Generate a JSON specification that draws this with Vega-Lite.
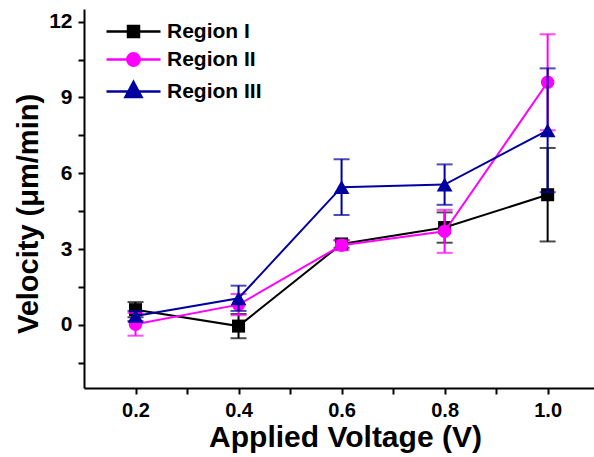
{
  "$schema": "https://vega.github.io/schema/vega-lite/v6.json",
  "width": 510,
  "height": 379,
  "autosize": {"type": "none"},
  "padding": {"left": 84, "top": 9, "right": 0, "bottom": 69},
  "background": "white",
  "config": {"view": {"stroke": null}, "font": "Liberation Sans"},
  "data": {
    "values": [
      {"voltage": 0.2, "region": "Region I", "velocity": 0.6, "err": 0.3},
      {"voltage": 0.4, "region": "Region I", "velocity": -0.05, "err": 0.48},
      {"voltage": 0.6, "region": "Region I", "velocity": 3.2, "err": 0.15},
      {"voltage": 0.8, "region": "Region I", "velocity": 3.85, "err": 0.6},
      {"voltage": 1.0, "region": "Region I", "velocity": 5.15, "err": 1.85},
      {"voltage": 0.2, "region": "Region II", "velocity": 0.02, "err": 0.45},
      {"voltage": 0.4, "region": "Region II", "velocity": 0.8, "err": 0.42},
      {"voltage": 0.6, "region": "Region II", "velocity": 3.15, "err": 0.2},
      {"voltage": 0.8, "region": "Region II", "velocity": 3.7, "err": 0.85},
      {"voltage": 1.0, "region": "Region II", "velocity": 9.6, "err": 1.9},
      {"voltage": 0.2, "region": "Region III", "velocity": 0.35, "err": 0.2},
      {"voltage": 0.4, "region": "Region III", "velocity": 1.05, "err": 0.5},
      {"voltage": 0.6, "region": "Region III", "velocity": 5.45, "err": 1.1},
      {"voltage": 0.8, "region": "Region III", "velocity": 5.55, "err": 0.8},
      {"voltage": 1.0, "region": "Region III", "velocity": 7.7, "err": 2.45}
    ]
  },
  "encoding": {
    "x": {
      "field": "voltage",
      "type": "quantitative",
      "scale": {"domain": [0.1, 1.09], "nice": false, "zero": false},
      "axis": {
        "values": [0.2, 0.3, 0.4, 0.5, 0.6, 0.7, 0.8, 0.9, 1.0],
        "labelExpr": "round(datum.value*10) % 2 === 0 ? format(datum.value, '.1f') : ''",
        "title": "Applied Voltage (V)",
        "grid": false,
        "domainColor": "black",
        "domainWidth": 2,
        "tickColor": "black",
        "tickWidth": 2,
        "tickSize": 6,
        "labelFont": "Liberation Sans",
        "labelFontSize": 20,
        "labelFontWeight": "bold",
        "labelColor": "black",
        "labelPadding": 6,
        "labelFlush": false,
        "labelOverlap": false,
        "titleFont": "Liberation Sans",
        "titleFontSize": 30,
        "titleFontWeight": "bold",
        "titleColor": "black",
        "titleBaseline": "alphabetic",
        "titleX": 261,
        "titleY": 58,
        "encode": {"ticks": {"update": {"y2": {"signal": "round(datum.value*10) % 2 === 0 ? 6 : 3"}}}}
      }
    },
    "y": {
      "field": "velocity",
      "type": "quantitative",
      "scale": {"domain": [-2.5, 12.5], "nice": false, "zero": false},
      "axis": {
        "values": [-1.5, 0, 1.5, 3, 4.5, 6, 7.5, 9, 10.5, 12],
        "labelExpr": "datum.value % 3 === 0 ? datum.label : ''",
        "title": "Velocity (μm/min)",
        "grid": false,
        "domainColor": "black",
        "domainWidth": 2,
        "tickColor": "black",
        "tickWidth": 2,
        "tickSize": 6,
        "labelFont": "Liberation Sans",
        "labelFontSize": 21,
        "labelFontWeight": "bold",
        "labelColor": "black",
        "labelPadding": 6,
        "labelFlush": false,
        "labelOverlap": false,
        "titleFont": "Liberation Sans",
        "titleFontSize": 29,
        "titleFontWeight": "bold",
        "titleColor": "black",
        "titleAngle": 270,
        "titleBaseline": "alphabetic",
        "titleAlign": "center",
        "titleX": -46.5,
        "titleY": 204.5,
        "encode": {"ticks": {"update": {"x2": {"signal": "datum.value % 3 === 0 ? -6 : -3"}}}}
      }
    },
    "color": {
      "field": "region",
      "type": "nominal",
      "scale": {"domain": ["Region I", "Region II", "Region III"], "range": ["#000000", "#FF00FF", "#0000A0"]},
      "legend": {
        "orient": "none",
        "legendX": 38,
        "legendY": 11,
        "title": null,
        "padding": 0,
        "labelFont": "Liberation Sans",
        "labelFontSize": 21,
        "labelFontWeight": "bold",
        "labelColor": "black",
        "symbolSize": 400,
        "symbolStrokeWidth": 2.5,
        "symbolOpacity": 1,
        "rowPadding": 6,
        "labelOffset": 22
      }
    }
  },
  "layer": [
    {
      "transform": [{"filter": {"field": "region", "equal": "Region I"}}],
      "mark": {"type": "errorbar", "ticks": {"size": 16, "thickness": 2}, "thickness": 2},
      "encoding": {"yError": {"field": "err"}}
    },
    {
      "transform": [{"filter": {"field": "region", "equal": "Region I"}}],
      "mark": {"type": "line", "strokeWidth": 2}
    },
    {
      "transform": [{"filter": {"field": "region", "equal": "Region I"}}],
      "mark": {"type": "point", "filled": true, "opacity": 1, "shape": "square", "size": 170}
    },
    {
      "transform": [{"filter": {"field": "region", "equal": "Region II"}}],
      "mark": {"type": "errorbar", "ticks": {"size": 16, "thickness": 2}, "thickness": 2},
      "encoding": {"yError": {"field": "err"}}
    },
    {
      "transform": [{"filter": {"field": "region", "equal": "Region II"}}],
      "mark": {"type": "line", "strokeWidth": 2}
    },
    {
      "transform": [{"filter": {"field": "region", "equal": "Region II"}}],
      "mark": {"type": "point", "filled": true, "opacity": 1, "shape": "circle", "size": 180}
    },
    {
      "transform": [{"filter": {"field": "region", "equal": "Region III"}}],
      "mark": {"type": "errorbar", "ticks": {"size": 16, "thickness": 2}, "thickness": 2},
      "encoding": {"yError": {"field": "err"}}
    },
    {
      "transform": [{"filter": {"field": "region", "equal": "Region III"}}],
      "mark": {"type": "line", "strokeWidth": 2}
    },
    {
      "transform": [{"filter": {"field": "region", "equal": "Region III"}}],
      "mark": {"type": "point", "filled": true, "opacity": 1, "shape": "triangle-up", "size": 250}
    },
    {
      "mark": {"type": "point", "filled": true, "opacity": 0, "size": 400},
      "encoding": {
        "shape": {
          "field": "region",
          "type": "nominal",
          "scale": {
            "domain": ["Region I", "Region II", "Region III"],
            "range": [
              "M-2.7,0H2.7M-0.55,-0.55H0.55V0.55H-0.55Z",
              "M-2.7,0H2.7M-0.62,0A0.62,0.62,0,1,0,0.62,0A0.62,0.62,0,1,0,-0.62,0Z",
              "M-2.7,0H2.7M0,-0.95L0.8,0.55H-0.8Z"
            ]
          },
          "legend": {
            "orient": "none",
            "legendX": 38,
            "legendY": 11,
            "title": null,
            "padding": 0,
            "labelFont": "Liberation Sans",
            "labelFontSize": 21,
            "labelFontWeight": "bold",
            "labelColor": "black",
            "symbolSize": 400,
            "symbolStrokeWidth": 2.5,
            "symbolOpacity": 1,
            "rowPadding": 6,
            "labelOffset": 22
          }
        },
        "stroke": {
          "field": "region",
          "type": "nominal",
          "scale": {"domain": ["Region I", "Region II", "Region III"], "range": ["#000000", "#FF00FF", "#0000A0"]},
          "legend": {
            "orient": "none",
            "legendX": 38,
            "legendY": 11,
            "title": null,
            "padding": 0,
            "labelFont": "Liberation Sans",
            "labelFontSize": 21,
            "labelFontWeight": "bold",
            "labelColor": "black",
            "symbolSize": 400,
            "symbolStrokeWidth": 2.5,
            "symbolOpacity": 1,
            "rowPadding": 6,
            "labelOffset": 22
          }
        }
      }
    }
  ]
}
